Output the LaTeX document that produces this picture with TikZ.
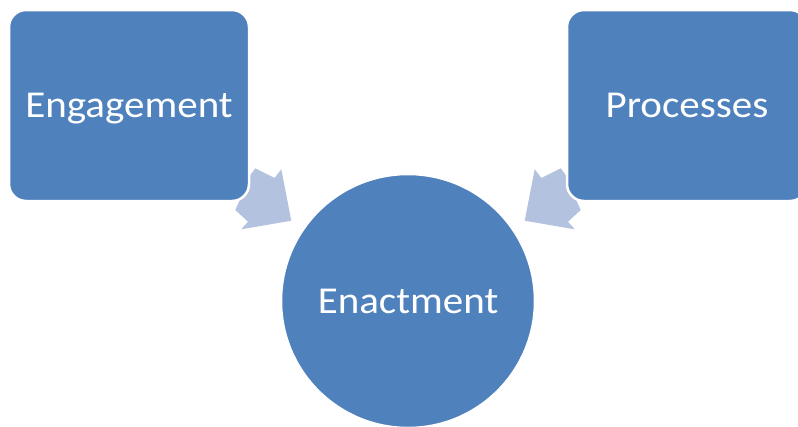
\documentclass[tikz,border=0pt]{standalone}
\usepackage{fontspec}
\setmainfont{Carlito}[FakeStretch=1.08]
\definecolor{boxblue}{HTML}{4F81BD}
\definecolor{arrowblue}{HTML}{B3C2DE}
\tikzset{
  box/.style={rectangle, rounded corners=17pt, fill=boxblue, draw=white,
    line width=2.5pt, minimum width=240pt, minimum height=191pt,
    inner sep=0pt, text=white, font=\fontsize{38}{40}\selectfont,
    text height=24pt, text depth=0pt},
  hub/.style={box, circle, minimum size=254pt},
  arrowpart/.style={fill=arrowblue}
}

\begin{document}
\begin{tikzpicture}[x=1pt,y=-1pt]
\clip (0,0) rectangle (798,426);

% Frecce
\foreach \sx/\dx in {1/0,-1/816}
  \fill[arrowpart, xshift=\dx, xscale=\sx]
    (255.3,168.3) -- (274.5,178) -- (281.3,169.3) -- (291.3,220.7)
    -- (241.3,229.3) -- (248,221.7) -- (235.3,210) -- (242,195)
    -- (246,181) -- cycle;

% Blocchi
\node[box] (eng) at (129,105.5) {Engagement};
\node[box] (proc) at (687,105.5) {Processes};
\node[hub] (enact) at (408,301) {Enactment};
\end{tikzpicture}
\end{document}
